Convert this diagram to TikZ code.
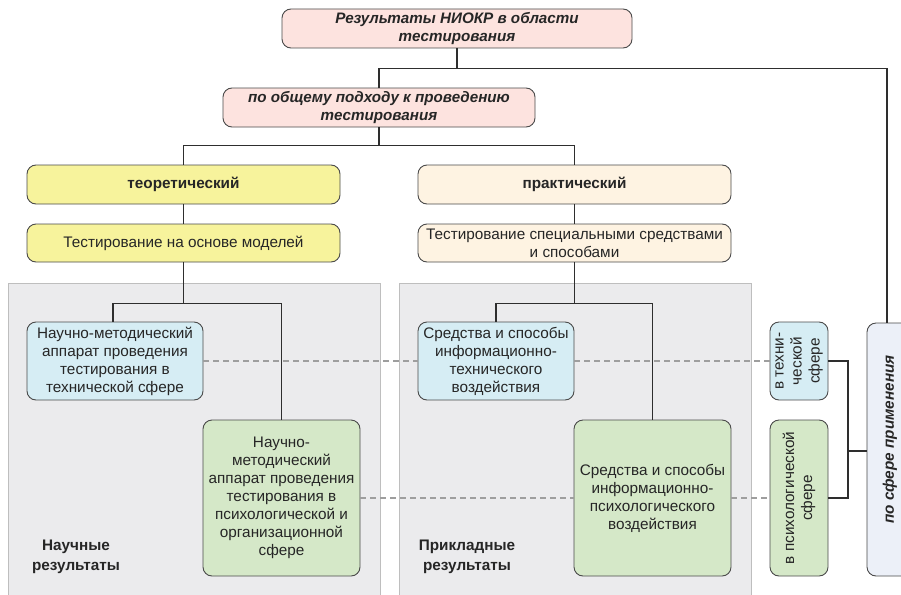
\documentclass[tikz,border=0pt]{standalone}
\usepackage{fontspec}
\setmainfont{Liberation Sans}
\usetikzlibrary{calc}
\definecolor{cpink}{HTML}{FDE3DF}
\definecolor{cyel}{HTML}{F7F39C}
\definecolor{ccream}{HTML}{FEF3E2}
\definecolor{cblue}{HTML}{D6EDF4}
\definecolor{cgreen}{HTML}{D5E8C8}
\definecolor{cviol}{HTML}{ECF0F8}
\definecolor{cpanel}{HTML}{EBEBED}
\definecolor{cpanelb}{HTML}{BEBEBE}
\definecolor{cedge}{HTML}{4A4A4A}
\definecolor{cline}{HTML}{2E2E2E}
\definecolor{cdash}{HTML}{9E9E9E}
\tikzset{
  box/.style={draw=cedge, line width=0.9pt, rounded corners=9pt, align=center,
    inner sep=0pt, font=\fontsize{15.3}{18}\selectfont, text=black!85},
  conn/.style={draw=cline, line width=1.3pt},
  dsh/.style={draw=cdash, line width=2.8pt, dash pattern=on 6pt off 4pt},
  panel/.style={draw=cpanelb, fill=cpanel, line width=0.9pt},
  plabel/.style={align=center, font=\fontsize{15.3}{20}\selectfont\bfseries, text=black!85},
  rlabel/.style={rotate=90, align=center, font=\fontsize{15.3}{18}\selectfont, text=black!85}
}
\begin{document}
\begin{tikzpicture}[x=1pt,y=-1pt]
\useasboundingbox (0,0) rectangle (901,594);
\begin{scope}
\clip (0,0) rectangle (901,594);
% panels
\path[panel] (8,283) rectangle (380,600);
\path[panel] (399,283) rectangle (751,600);
\node[plabel] (lblA) at (76,557) {Научные\\результаты};
\node[plabel] (lblB) at (467,557) {Прикладные\\результаты};

% nodes
\node[box, fill=cpink, minimum width=350, minimum height=39, font=\fontsize{15.2}{18}\selectfont\bfseries\itshape] (top) at (457,28.5) {Результаты НИОКР в области\\тестирования};
\node[box, fill=cpink, minimum width=312, minimum height=39, font=\fontsize{15.2}{18}\selectfont\bfseries\itshape] (appr) at (379,107.5) {по общему подходу к проведению\\тестирования};
\node[box, fill=cyel, minimum width=313, minimum height=39, font=\fontsize{15.3}{18}\selectfont\bfseries] (theor) at (183.5,184.5) {теоретический};
\node[box, fill=ccream, minimum width=313, minimum height=39, font=\fontsize{15.3}{18}\selectfont\bfseries] (pract) at (574.5,184.5) {практический};
\node[box, fill=cyel, minimum width=313, minimum height=38] (model) at (183.5,243) {Тестирование на основе моделей};
\node[box, fill=ccream, minimum width=313, minimum height=38] (spec) at (574.5,243) {Тестирование специальными средствами\\и способами};
\node[box, fill=cblue, minimum width=176, minimum height=78] (sciT) at (115,361) {Научно-методический\\аппарат проведения\\тестирования в\\технической сфере};
\node[box, fill=cgreen, minimum width=157, minimum height=156] (sciP) at (281.5,498) {Научно-\\методический\\аппарат проведения\\тестирования в\\психологической и\\организационной\\сфере};
\node[box, fill=cblue, minimum width=156, minimum height=78] (appT) at (496,361) {Средства и способы\\информационно-\\технического\\воздействия};
\node[box, fill=cgreen, minimum width=157, minimum height=156] (appP) at (652.5,498) {Средства и способы\\информационно-\\психологического\\воздействия};
\node[box, fill=cblue, minimum width=58, minimum height=78] (sphT) at (799,361) {};
\node[rlabel] (sphTt) at (sphT.center) {в техни-\\ческой\\сфере};
\node[box, fill=cgreen, minimum width=58, minimum height=156] (sphP) at (799,498) {};
\node[rlabel] (sphPt) at (sphP.center) {в психологической\\сфере};
\node[box, fill=cviol, minimum width=46, minimum height=253] (sph) at (890,449.5) {};
\node[rotate=90, font=\fontsize{15.3}{18}\selectfont\bfseries\itshape, text=black!85] (spht) at ($(sph.center)+(0,-10)$) {по сфере применения};

% junction coordinates
\coordinate (j1) at ($(top.south)+(0,20)$);
\coordinate (j2) at ($(appr.south)+(0,18)$);
\coordinate (j3) at ($(model.south)+(0,41)$);
\coordinate (j4) at ($(spec.south)+(0,41)$);
\coordinate (j5) at (848,451);

% connectors
\draw[conn] (top.south) -- (j1);
\draw[conn] (appr.north) |- (j1) -| ([xshift=-3pt]sph.north);
\draw[conn] (appr.south) -- (j2);
\draw[conn] (theor.north) |- (j2) -| (pract.north);
\draw[conn] (theor.south) -- (model.north);
\draw[conn] (pract.south) -- (spec.north);
\draw[conn] (model.south) -- (j3);
\draw[conn] ([xshift=-2pt]sciT.north) |- (j3) -| (sciP.north);
\draw[conn] (spec.south) -- (j4);
\draw[conn] (appT.north) |- (j4) -| (appP.north);
\draw[conn] (sphT.east) -| (j5) |- (sphP.east);
\draw[conn] (j5) -- (j5 -| sph.west);

% dashed links
\draw[dsh] (sciT.east) -- (appT.west);
\draw[dsh] (appT.east) -- (sphT.west);
\draw[dsh] (sciP.east) -- (appP.west);
\draw[dsh] (appP.east) -- (sphP.west);
\end{scope}
\end{tikzpicture}
\end{document}
